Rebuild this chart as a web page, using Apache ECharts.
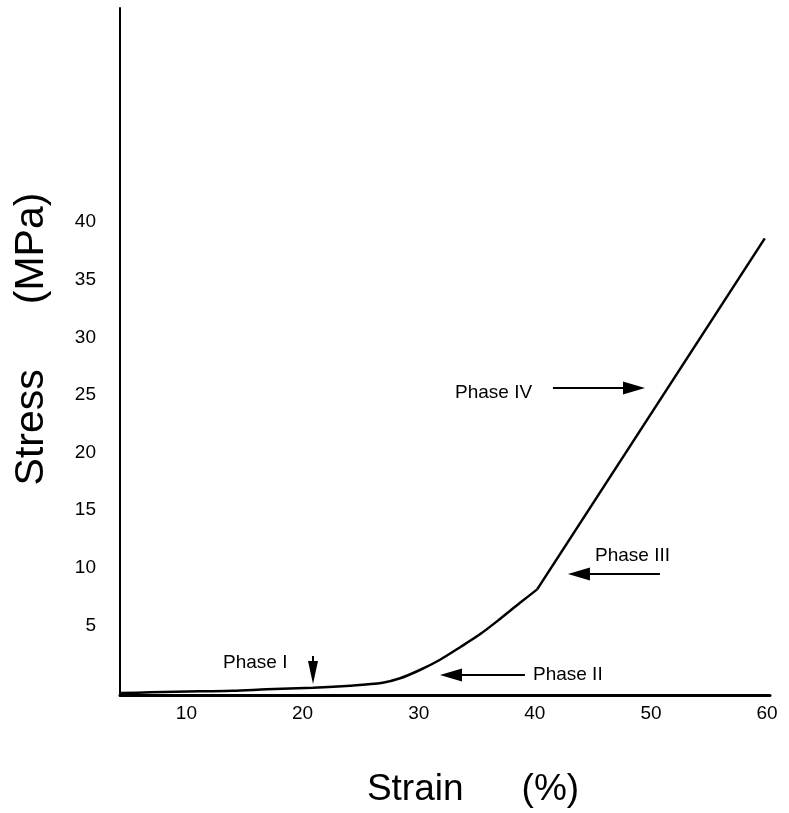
<!DOCTYPE html>
<html lang="en">
<head>
  <meta charset="UTF-8">
  <script type="text/javascript" src="https://cdn.jsdelivr.net/npm/echarts@6/dist/echarts.min.js"></script>
  <title>Stress strain</title>
  <style>
    * {margin: 0; padding: 0;}
    html, body {
      width: 789px;
      height: 813px;
      overflow: hidden;
      background-color: #fff;
    }
    #chart {
      width: 789px;
      height: 813px;
    }
  </style>
</head>
<body>
  <div id="chart"></div>
</body>
<script>
// curve
var strain = [4.3, 6.9, 11.2, 14.0, 16.9, 20.9, 24.1, 26.9, 28.4, 30.1, 31.8, 33.6, 35.3, 37.0, 38.7, 40.2, 59.8]
var stress = [-0.87, -0.81, -0.72, -0.67, -0.55, -0.41, -0.23, 0.03, 0.41, 1.13, 2.0, 3.13, 4.25, 5.56, 6.94, 8.13, 38.6]
// index of the knee where the straight part (phase IV) starts
var kneeIndex = 15

var xTicks = [10, 20, 30, 40, 50, 60]
var yTicks = [5, 10, 15, 20, 25, 30, 35, 40]

// phase annotations (strain, stress)
var phaseNames = ['Phase I', 'Phase II', 'Phase III', 'Phase IV']
var phaseTextAt = [[13.15, 1.76], [39.84, 0.69], [45.18, 11.03], [33.13, 25.18]]
var phaseArrowFrom = [[20.9, 2.34], [39.15, 0.69], [50.77, 9.46], [41.56, 25.61]]
var phaseArrowTo = [[20.9, 0.91], [32.78, 0.69], [43.8, 9.46], [48.54, 25.61]]

window.onload = function () {
  drawChart()
}

function drawChart () {
  var font = 'Liberation Sans'
  var points = strain.map((s, i) => [s, stress[i]])

  var arrows = phaseNames.map((name, i) => [
    {coord: phaseArrowFrom[i], symbol: 'none'},
    {coord: phaseArrowTo[i], symbol: 'triangle', symbolSize: i === 0 ? [10, 23] : [13, 22]}
  ])
  var texts = phaseNames.map((name, i) => ({
    name: name,
    coord: phaseTextAt[i]
  }))

  var option = {
    backgroundColor: '#fff',
    animation: false,
    grid: {
      left: 120,
      right: 19,
      top: 8,
      bottom: 118
    },
    xAxis: {
      type: 'value',
      min: 4.28,
      max: 60.25,
      name: '{s|Strain}{p|(%)}',
      nameLocation: 'middle',
      nameGap: 76,
      nameTextStyle: {
        padding: [0, 0, 0, 56],
        rich: {
          s: {fontFamily: font, fontSize: 37, color: '#000'},
          p: {fontFamily: font, fontSize: 37, color: '#000', padding: [0, 0, 0, 58]}
        }
      },
      splitLine: {show: false},
      axisTick: {show: false},
      axisLine: {
        onZero: false,
        lineStyle: {color: '#000', width: 3}
      },
      axisLabel: {
        customValues: xTicks,
        margin: 9,
        color: '#000',
        fontFamily: font,
        fontSize: 19
      }
    },
    yAxis: {
      type: 'value',
      min: -1.04,
      max: 58.6,
      name: '{s|Stress}{p|(MPa)}',
      nameLocation: 'middle',
      nameRotate: 90,
      nameGap: 68,
      nameTextStyle: {
        padding: [0, 0, 0, 25],
        rich: {
          s: {fontFamily: font, fontSize: 41, color: '#000'},
          p: {fontFamily: font, fontSize: 41, color: '#000', padding: [0, 0, 0, 65]}
        }
      },
      splitLine: {show: false},
      axisTick: {show: false},
      axisLine: {
        show: true,
        onZero: false,
        lineStyle: {color: '#000', width: 2}
      },
      axisLabel: {
        customValues: yTicks,
        margin: 24,
        color: '#000',
        fontFamily: font,
        fontSize: 19
      }
    },
    series: [
      {
        // phases I-III, curved
        type: 'line',
        data: points.slice(0, kneeIndex + 1),
        symbol: 'none',
        smooth: 0.3,
        lineStyle: {color: '#000', width: 2.5},
        markLine: {
          silent: true,
          animation: false,
          lineStyle: {color: '#000', width: 2, type: 'solid'},
          itemStyle: {color: '#000'},
          label: {show: false},
          data: arrows
        },
        markPoint: {
          silent: true,
          symbol: 'circle',
          symbolSize: 0,
          label: {
            show: true,
            position: 'right',
            distance: 0,
            formatter: '{b}',
            color: '#000',
            fontFamily: font,
            fontSize: 19
          },
          data: texts
        }
      },
      {
        // phase IV, straight
        type: 'line',
        data: points.slice(kneeIndex),
        symbol: 'none',
        lineStyle: {color: '#000', width: 2.5}
      }
    ]
  }
  var chart = echarts.init(document.getElementById('chart'))
  chart.setOption(option)
}
</script>
</html>
